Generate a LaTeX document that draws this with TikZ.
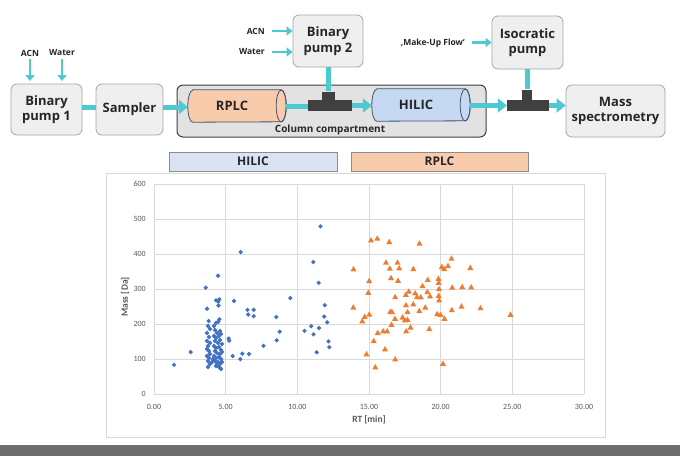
\documentclass[tikz,border=0pt]{standalone}
\usepackage{fontspec}
\setmainfont{Open Sans}
\newfontfamily\chartfont{Carlito}
\usetikzlibrary{arrows.meta}
\definecolor{flow}{HTML}{4DC9D0}
\definecolor{boxfill}{HTML}{EFEFEF}
\definecolor{boxline}{HTML}{A6A6A6}
\definecolor{ccfill}{HTML}{E2E2E2}
\definecolor{darkc}{HTML}{404040}
\definecolor{rplcfill}{HTML}{F8CBAD}
\definecolor{hilicfill}{HTML}{C5DAF2}
\definecolor{hilicbarfill}{HTML}{DAE3F3}
\definecolor{cylline}{HTML}{44546A}
\definecolor{gridc}{HTML}{D9D9D9}
\definecolor{tickc}{HTML}{595959}
\definecolor{blu}{HTML}{4472C4}
\definecolor{ora}{HTML}{ED7D31}
\definecolor{txt}{HTML}{262626}
\begin{document}
\begin{tikzpicture}[x=1pt,y=-1pt,
  unit/.style={draw=boxline, fill=boxfill, rounded corners=6pt, line width=0.8pt, align=center,
    text=txt, font=\fontsize{13}{15.5}\selectfont\bfseries, inner sep=0pt},
  flowline/.style={draw=flow, line width=5pt},
  flowarrow/.style={flowline, -{Triangle[length=9pt,width=14pt]}},
  feed/.style={draw=flow, line width=2.6pt, -{Triangle[length=6pt,width=9pt]}},
  small/.style={font=\fontsize{8.5}{10}\selectfont\bfseries, text=txt, inner sep=1pt},
  tpiece/.style={fill=darkc, inner sep=0pt},
  cyl/.style={draw=cylline, line width=0.8pt},
  cyllabel/.style={inner sep=0pt, text=txt, font=\fontsize{13}{15}\selectfont\bfseries},
  legbar/.style={draw=gray!90, line width=0.6pt, inner sep=0pt, text=txt, font=\fontsize{12}{14}\selectfont\bfseries},
  tick/.style={text=tickc, font=\chartfont\fontsize{8}{9}\selectfont, inner sep=0pt}
]
\useasboundingbox (0,0) rectangle (680,456);
\fill[white] (0,0) rectangle (680,456);
% bottom bar
\fill[gray!65!black!85] (0,445) rectangle (680,456);

% ---- column compartment
\draw[fill=ccfill, draw=darkc, line width=1pt, rounded corners=6pt] (177,85) rectangle (486,137);
\node[font=\fontsize{10}{12}\selectfont\bfseries, text=txt, inner sep=0pt] (cclab) at (330,130) {Column compartment};

% ---- units
\node[unit, minimum width=71pt, minimum height=51pt] (bp1) at (46.5,109.5) {Binary\\pump 1};
\node[unit, minimum width=67pt, minimum height=51pt] (samp) at (129.5,109.5) {Sampler};
\node[unit, minimum width=70pt, minimum height=52pt] (bp2) at (328,41) {Binary\\pump 2};
\node[unit, minimum width=71pt, minimum height=53pt] (iso) at (527.5,42.5) {Isocratic\\pump};
\node[unit, minimum width=99pt, minimum height=52pt] (ms) at (615.5,111) {Mass\\spectrometry};

% ---- cylinders
\node[cyllabel, minimum width=98pt, minimum height=32pt] (rplc) at (237,106) {};
\path[cyl, fill=rplcfill] ([xshift=5pt]rplc.north west) -- ([xshift=-5pt]rplc.north east)
  arc[start angle=90, end angle=-90, x radius=5pt, y radius=16pt]
  -- ([xshift=5pt]rplc.south west)
  arc[start angle=270, end angle=90, x radius=5pt, y radius=16pt] -- cycle;
\draw[cyl] ([xshift=-5pt]rplc.east) ellipse[x radius=5pt, y radius=16pt];
\node[cyllabel] at (232,106) {RPLC};

\node[cyllabel, minimum width=98pt, minimum height=32pt] (hilic) at (421,105) {};
\path[cyl, fill=hilicfill] ([xshift=5pt]hilic.north west) -- ([xshift=-5pt]hilic.north east)
  arc[start angle=90, end angle=-90, x radius=5pt, y radius=16pt]
  -- ([xshift=5pt]hilic.south west)
  arc[start angle=270, end angle=90, x radius=5pt, y radius=16pt] -- cycle;
\draw[cyl] ([xshift=-5pt]hilic.east) ellipse[x radius=5pt, y radius=16pt];
\node[cyllabel] at (416,105) {HILIC};

% ---- T pieces
\node[tpiece, minimum width=44pt, minimum height=11pt] (t1) at (330,105.5) {};
\node[tpiece, minimum width=13pt, minimum height=9pt] (t1s) at (328.5,96) {};
\node[tpiece, minimum width=42pt, minimum height=11pt] (t2) at (528,105.5) {};
\node[tpiece, minimum width=10pt, minimum height=11pt] (t2s) at (527,95) {};

% ---- flow connectors
\coordinate (fy) at (0,107);
\draw[flowline] (bp1.east |- fy) -- (samp.west |- fy);
\draw[flowarrow] (samp.east |- fy) -- (rplc.west |- fy);
\draw[flowline] (rplc.east) -- (t1.west |- rplc.east);
\draw[flowline] (bp2.south -| t1s.north) -- (t1s.north);
\draw[flowarrow] (t1.east) -- (hilic.west |- t1.east);
\draw[flowarrow] (hilic.east |- t2.west) -- (t2.west);
\draw[flowline] (iso.south -| t2s.north) -- (t2s.north);
\draw[flowarrow] (t2.east) -- (ms.west |- t2.east);

% ---- feeds
\node[small] (acn1) at (30,53) {ACN};
\node[small] (wat1) at (62,53) {Water};
\draw[feed] (acn1.south) ++(0,2) -- (acn1.south |- 0,81);
\draw[feed] (wat1.south) ++(0,2) -- (wat1.south |- 0,81);
\node[small, anchor=east] (acn2) at (266,31) {ACN};
\node[small, anchor=east] (wat2) at (266,52) {Water};
\draw[feed] (272,31) -- (bp2.west |- acn2);
\draw[feed] (272,52) -- (bp2.west |- wat2);
\node[small, anchor=east] (muf) at (466,43) {‚Make-Up Flow‘};
\draw[feed] (472,42.5) -- (iso.west |- 0,42.5);

% ---- legend bars
\node[legbar, fill=hilicbarfill, minimum width=168pt, minimum height=19pt] (hbar) at (253,161.5) {HILIC};
\node[legbar, fill=rplcfill, minimum width=177pt, minimum height=19pt] (rbar) at (439.5,161.5) {RPLC};

% ---- chart
\draw[gridc, line width=0.8pt] (106,173) rectangle (605,437);
\foreach \k in {0,...,6} {
  \draw[gridc, line width=0.9pt] ({154+71.667*\k},184) -- ({154+71.667*\k},394);
  \draw[gridc, line width=0.9pt] (154,{394-35*\k}) -- (584,{394-35*\k});
}
\foreach \k/\l in {0/0,1/100,2/200,3/300,4/400,5/500,6/600}
  \node[tick, anchor=east] at (146,{394-35*\k}) {\l};
\foreach \k/\l in {0/0.00,1/5.00,2/10.00,3/15.00,4/20.00,5/25.00,6/30.00}
  \node[tick] at ({154+71.667*\k},407) {\l};
\node[text=tickc, font=\chartfont\fontsize{9.5}{11}\selectfont\bfseries] (xlab) at (369,420) {RT [min]};
\node[text=tickc, font=\chartfont\fontsize{9.5}{11}\selectfont\bfseries, rotate=90] (ylab) at (125,297) {Mass [Da]};

% blue diamonds (HILIC)
\foreach \x/\y in {174/364.8,190.7/352,205.7/287.7,218/275.7,240.7/252,216/300.3,219.3/299.3,218.3/301.5,218.5/305.5,234/301,207/308.7,247.5/309.8,253.7/309.8,248.2/314.5,253.7/316.2,219.3/319.3,218.3/321.7,208.7/321,228.7/338.5,229.2/340.7,232.7/356,242.3/353.7,249/354,240.3/359.2,263.5/345.8,276.3/317,279.7/331.7,276.7/340.3,290.3/298,304.5/330.8,311.2/326.2,313.5/334.3,319/328,316.7/352.3,324.2/316.5,327.2/322.3,324.8/305.2,328.5/341.3,329.3/347.2,313.3/262,318.7/282.8,320.5/226.3,
208/326,210/329,207/333,209/337,207/341,210/343,208/346,207/349,209/351,210/354,207/356,209/358,208/361,210/364,212/362,208/367,
214/326,216/323,215/330,217/333,220/331,214/336,216/338,219/336,221/334,215/341,218/343,220/340,222/344,214/346,216/348,219/347,221/350,215/351,217/353,220/354,222/352,214/356,216/358,219/357,221/359,215/361,218/362,220/364,222/362,216/366,219/367,221/369,217/364,213/359}
  \fill[blu] (\x,\y) +(0,-2.3) -- +(2.3,0) -- +(0,2.3) -- +(-2.3,0) -- cycle;

% orange triangles (RPLC)
\foreach \x/\y in {371/240,377.3/238.3,389.3/241.7,419.5/243.3,
353.5/269,386/262.3,397.5/262.3,389.8/268.3,399.2/268,413.3/268.8,
451.5/258.3,441.8/266.7,444.2/268.7,448/265.7,470.3/267.7,
369.2/280.7,391/277.8,398/280.5,427.7/279.5,438.5/278.5,438.7/282.5,
368.3/292.5,422.5/285.8,395.2/296.8,408.8/291.3,405.8/294.5,415.2/293,417/296.8,420.8/297,
427.3/291.8,430/296,439/288.7,452.2/287.3,462.2/286.7,471.2/287,438.7/295.5,439.2/300,
353.3/307.2,406/305,413.3/304,425.3/307.2,461.5/306.2,480.5/307.8,
369.3/314.2,364.7/316.5,362.3/321,390.3/311.5,392/311.8,407.5/311.8,419.3/310.7,
437.2/313.8,440.5/314.5,444.5/318.5,451.8/309.8,510.5/314.5,
391.5/324.5,395/318.5,402.5/317.2,404.8/320,407.5/319.5,410.5/327.2,406.2/331,
377.7/332.7,383.2/331,387.2/331,373.7/340.7,429.3/328.7,
385/349,366.5/354,395.2/359,375.3/367,443/363.5}
  \fill[ora] (\x,\y) +(0,-3) -- +(3,2.3) -- +(-3,2.3) -- cycle;
\end{tikzpicture}
\end{document}
